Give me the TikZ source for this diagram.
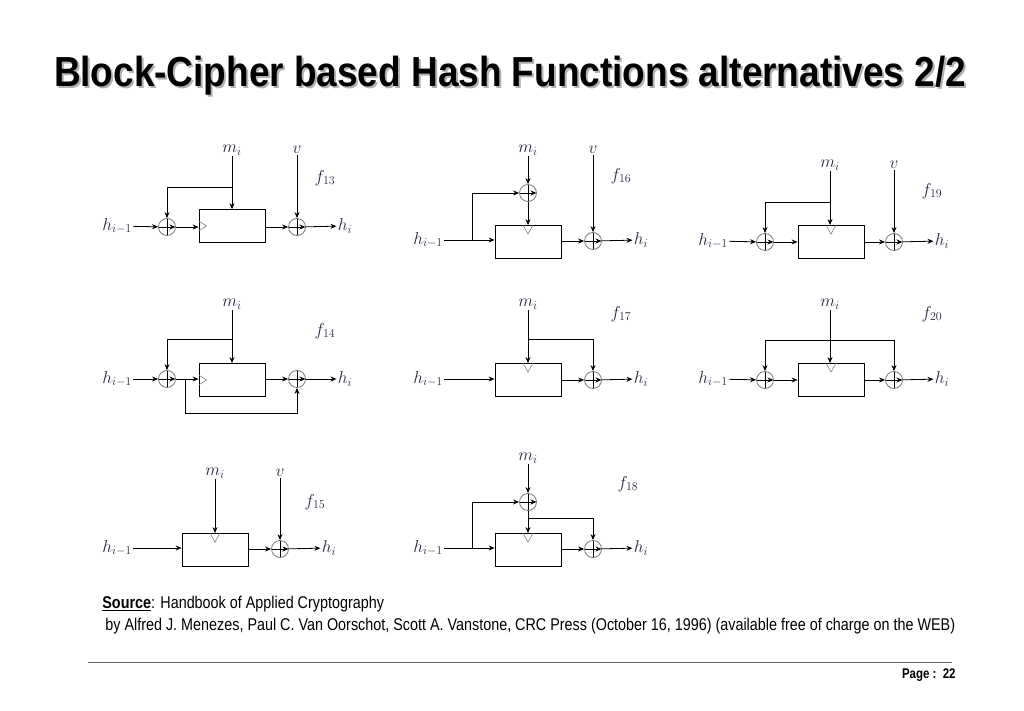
\documentclass[tikz,border=0pt]{standalone}
\usepackage{fontspec}
\usepackage{tikz}
\usetikzlibrary{arrows.meta,positioning}
\newfontfamily\arialf{Liberation Sans}
\definecolor{lblcol}{RGB}{40,40,70}
\definecolor{ringcol}{RGB}{120,120,120}

\tikzset{
  xor/.style={circle,draw=ringcol,thick,minimum size=17pt,inner sep=0pt,
    path picture={\draw[black,thick]
      (path picture bounding box.north) -- (path picture bounding box.south)
      (path picture bounding box.west) -- (path picture bounding box.east);}},
  blk/.style={rectangle,draw,thick,minimum width=66pt,minimum height=33pt,inner sep=0pt},
  lbl/.style={text=lblcol,inner sep=1pt,font=\fontsize{17}{17}\selectfont},
  keymark/.style={draw=gray,semithick,-},
}
\newcommand{\keyleft}[1]{\draw[keymark] (#1.west) ++(0,-5) -- ++(8,5) -- ++(-8,5);}
\newcommand{\keytop}[1]{\draw[keymark] (#1.north) ++(-5,0) -- ++(5,9) -- ++(5,-9);}

\begin{document}
\begin{tikzpicture}[x=1pt,y=-1pt,->,>={Stealth[length=6pt,width=5pt]},thick]
  \useasboundingbox (0,0) rectangle (1024,711);

  % title
  \node[text=gray!60,font=\arialf\bfseries\fontsize{42}{42}\selectfont] at (512,78) {\scalebox{0.88}[1]{Block-Cipher based Hash Functions alternatives 2/2}};
  \node[font=\arialf\bfseries\fontsize{42}{42}\selectfont] (title) at (510,76) {\scalebox{0.88}[1]{Block-Cipher based Hash Functions alternatives 2/2}};

  % f13
  \node[lbl] (h13) at (117,226) {$h_{i-1}$};
  \node[xor] (x13a) at (167,227) {};
  \node[blk] (b13) at (232,226) {};
  \node[xor] (x13b) at (297,227) {};
  \node[lbl] (o13) at (345,226) {$h_i$};
  \node[lbl] (m13) at (232,150) {$m_i$};
  \node[lbl] (v13) at (297,150) {$v$};
  \node[lbl] (f13) at (325,178) {$f_{13}$};
  \coordinate (t13) at (232,187);
  \draw (h13) -- (x13a);
  \draw (x13a) -- (x13a -| b13.west);
  \draw (m13) -- (b13);
  \draw (t13) -| (x13a);
  \draw (b13.east |- x13b) -- (x13b);
  \draw (v13) -- (x13b);
  \draw (x13b) -- (o13);
  \keyleft{b13}

  % f14
  \node[lbl] (h14) at (117,379) {$h_{i-1}$};
  \node[xor] (x14a) at (167,379) {};
  \node[blk] (b14) at (232,380) {};
  \node[xor] (x14b) at (297,379) {};
  \node[lbl] (o14) at (345,379) {$h_i$};
  \node[lbl] (m14) at (232,304) {$m_i$};
  \node[lbl] (f14) at (325,331) {$f_{14}$};
  \coordinate (t14) at (232,339);
  \coordinate (s14) at (185,379);
  \coordinate (d14) at (185,413);
  \draw (h14) -- (x14a);
  \draw (x14a) -- (x14a -| b14.west);
  \draw (m14) -- (b14);
  \draw (t14) -| (x14a);
  \draw (b14.east |- x14b) -- (x14b);
  \draw (s14) -- (d14) -| (x14b);
  \draw (x14b) -- (o14);
  \keyleft{b14}

  % f15
  \node[lbl] (h15) at (117,548) {$h_{i-1}$};
  \node[blk] (b15) at (215,550) {};
  \node[xor] (x15) at (280,549) {};
  \node[lbl] (o15) at (329,548) {$h_i$};
  \node[lbl] (m15) at (215,473) {$m_i$};
  \node[lbl] (v15) at (280,473) {$v$};
  \node[lbl] (f15) at (315,502) {$f_{15}$};
  \draw (h15) -- (h15 -| b15.west);
  \draw (m15) -- (b15);
  \draw (b15.east |- x15) -- (x15);
  \draw (v15) -- (x15);
  \draw (x15) -- (o15);
  \keytop{b15}

  % f16
  \node[lbl] (h16) at (428,240) {$h_{i-1}$};
  \node[xor] (x16a) at (528,193) {};
  \node[blk] (b16) at (528,242) {};
  \node[xor] (x16b) at (593,241) {};
  \node[lbl] (o16) at (641,240) {$h_i$};
  \node[lbl] (m16) at (528,150) {$m_i$};
  \node[lbl] (v16) at (593,150) {$v$};
  \node[lbl] (f16) at (621,176) {$f_{16}$};
  \coordinate (s16) at (472,241);
  \draw (h16) -- (h16 -| b16.west);
  \draw (s16) |- (x16a);
  \draw (m16) -- (x16a);
  \draw (x16a) -- (b16);
  \draw (b16.east |- x16b) -- (x16b);
  \draw (v16) -- (x16b);
  \draw (x16b) -- (o16);
  \keytop{b16}

  % f17
  \node[lbl] (h17) at (428,379) {$h_{i-1}$};
  \node[blk] (b17) at (528,380) {};
  \node[xor] (x17) at (593,380) {};
  \node[lbl] (o17) at (641,379) {$h_i$};
  \node[lbl] (m17) at (528,304) {$m_i$};
  \node[lbl] (f17) at (621,314) {$f_{17}$};
  \coordinate (t17) at (528,339);
  \draw (h17) -- (h17 -| b17.west);
  \draw (m17) -- (b17);
  \draw (t17) -| (x17);
  \draw (b17.east |- x17) -- (x17);
  \draw (x17) -- (o17);
  \keytop{b17}

  % f18
  \node[lbl] (h18) at (428,548) {$h_{i-1}$};
  \node[xor] (x18a) at (528,502) {};
  \node[blk] (b18) at (528,550) {};
  \node[xor] (x18b) at (593,549) {};
  \node[lbl] (o18) at (641,548) {$h_i$};
  \node[lbl] (m18) at (528,458) {$m_i$};
  \node[lbl] (f18) at (628,484) {$f_{18}$};
  \coordinate (s18) at (472,549);
  \coordinate (t18) at (528,518);
  \draw (h18) -- (h18 -| b18.west);
  \draw (s18) |- (x18a);
  \draw (m18) -- (x18a);
  \draw (x18a) -- (b18);
  \draw (t18) -| (x18b);
  \draw (b18.east |- x18b) -- (x18b);
  \draw (x18b) -- (o18);
  \keytop{b18}

  % f19
  \node[lbl] (h19) at (713,241) {$h_{i-1}$};
  \node[xor] (x19a) at (765,242) {};
  \node[blk] (b19) at (831,242) {};
  \node[xor] (x19b) at (894,242) {};
  \node[lbl] (o19) at (942,241) {$h_i$};
  \node[lbl] (m19) at (830,165) {$m_i$};
  \node[lbl] (v19) at (894,165) {$v$};
  \node[lbl] (f19) at (932,191) {$f_{19}$};
  \coordinate (t19) at (830,202);
  \draw (h19) -- (x19a);
  \draw (x19a) -- (x19a -| b19.west);
  \draw (m19) -- (m19 |- b19.north);
  \draw (t19) -| (x19a);
  \draw (b19.east |- x19b) -- (x19b);
  \draw (v19) -- (x19b);
  \draw (x19b) -- (o19);
  \keytop{b19}

  % f20
  \node[lbl] (h20) at (713,379) {$h_{i-1}$};
  \node[xor] (x20a) at (765,380) {};
  \node[blk] (b20) at (831,380) {};
  \node[xor] (x20b) at (894,380) {};
  \node[lbl] (o20) at (942,379) {$h_i$};
  \node[lbl] (m20) at (830,304) {$m_i$};
  \node[lbl] (f20) at (932,314) {$f_{20}$};
  \coordinate (t20) at (830,340);
  \draw (h20) -- (x20a);
  \draw (x20a) -- (x20a -| b20.west);
  \draw (m20) -- (m20 |- b20.north);
  \draw (t20) -| (x20a);
  \draw (t20) -| (x20b);
  \draw (b20.east |- x20b) -- (x20b);
  \draw (x20b) -- (o20);
  \keytop{b20}

  % source and footer
  \node[anchor=west,inner sep=0pt,font=\arialf\fontsize{17}{17}\selectfont] (src) at (102,604)
    {\scalebox{0.845}[1]{\textbf{\underline{Source}}: Handbook of Applied Cryptography}};
  \node[anchor=west,inner sep=0pt,font=\arialf\fontsize{17}{17}\selectfont] (by) at (105,626)
    {\scalebox{0.845}[1]{by Alfred J. Menezes, Paul C. Van Oorschot, Scott A. Vanstone, CRC Press (October 16, 1996) (available free of charge on the WEB)}};
  \coordinate (r1) at (88,662);
  \coordinate (r2) at (952,662);
  \draw[-,gray!80!black,thin] (r1) -- (r2);
  \node[anchor=east,inner sep=0pt,font=\arialf\bfseries\fontsize{14}{14}\selectfont] (pg) at (956,675)
    {\scalebox{0.82}[1]{Page :\ \ 22}};
\end{tikzpicture}
\end{document}
